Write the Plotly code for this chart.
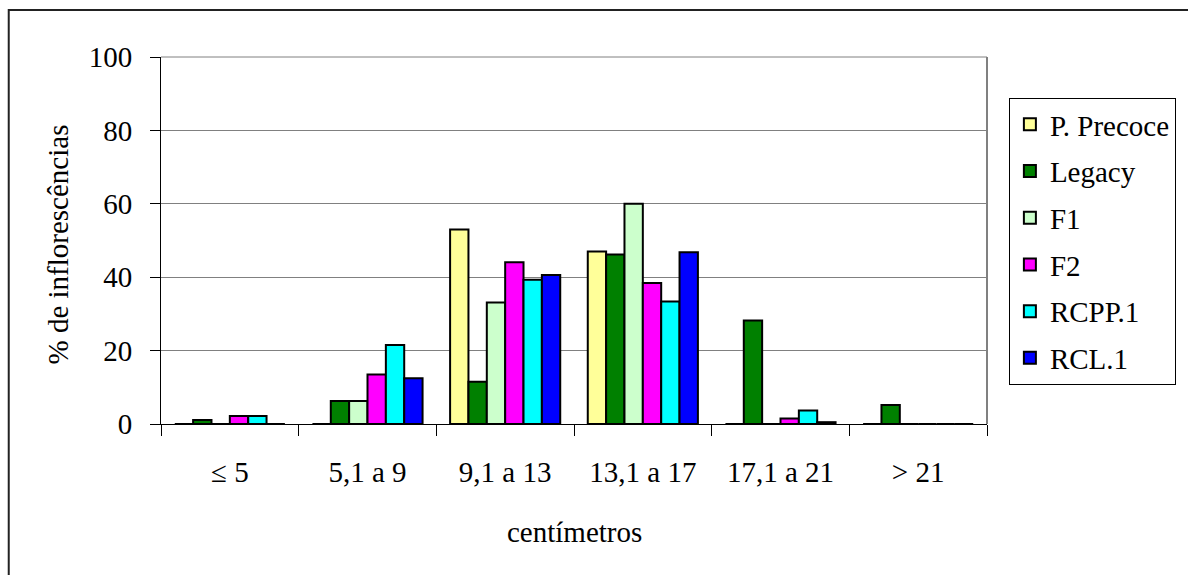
import plotly.graph_objects as go

# Length classes (cm) and share of inflorescences per genotype (%)
categories = ["\u2264 5", "5,1 a 9", "9,1 a 13", "13,1 a 17", "17,1 a 21", "> 21"]
series_names = ["P. Precoce", "Legacy", "F1", "F2", "RCPP.1", "RCL.1"]
p_precoce = [0, 0, 53.0, 47.0, 0, 0]
legacy = [1.1, 6.3, 11.5, 46.2, 28.2, 5.2]
f1 = [0, 6.3, 33.1, 60.0, 0, 0]
f2 = [2.2, 13.5, 44.1, 38.4, 1.5, 0]
rcpp1 = [2.2, 21.5, 39.3, 33.4, 3.7, 0]
rcl1 = [0, 12.5, 40.6, 46.8, 0.5, 0]
series_values = [p_precoce, legacy, f1, f2, rcpp1, rcl1]
y_ticks = [0, 20, 40, 60, 80, 100]

colors = ["#FFFF99", "#008000", "#CCFFCC", "#FF00FF", "#00FFFF", "#0000FF"]

W, H = 1188, 575
L, R, T, B = 161, 991, 57, 424  # plot area in pixels
FONT = "'Liberation Serif', 'Times New Roman', Times, serif"
FS = 29


def px(x):
    return (x - L) / (R - L)


def py(y):
    return (B - y) / (B - T)


fig = go.Figure()
for i, (name, vals) in enumerate(zip(series_names, series_values)):
    fig.add_trace(go.Bar(
        name=name, x=categories, y=vals,
        marker=dict(color=colors[i], line=dict(color="black", width=2)),
        legendgroup=name,
    ))

fig.update_layout(
    width=W, height=H,
    margin=dict(l=L, r=W - R, t=T, b=H - B, pad=0),
    paper_bgcolor="white", plot_bgcolor="white",
    barmode="group", bargap=0.2, bargroupgap=0,
    font=dict(family=FONT, size=FS, color="black"),
    showlegend=True,
    legend=dict(
        x=px(1013), y=py(98), xanchor="left", yanchor="top",
        bgcolor="white", bordercolor="black", borderwidth=1,
        font=dict(family=FONT, size=FS, color="black"),
        tracegroupgap=6, traceorder="grouped",
        itemsizing="constant",
    ),
    xaxis=dict(
        type="category", showline=True, linecolor="black", linewidth=1,
        ticks="outside", ticklen=11, tickcolor="black", tickson="boundaries",
        showgrid=False, tickfont=dict(family=FONT, size=FS),
        ticklabelstandoff=22, tickangle=0,
    ),
    yaxis=dict(
        range=[0, 100], tickvals=y_ticks, showline=True, linecolor="black",
        linewidth=1, ticks="outside", ticklen=10, tickcolor="black",
        showgrid=True, gridcolor="#808080", gridwidth=1, zeroline=False,
        tickfont=dict(family=FONT, size=FS), ticklabelstandoff=12,
    ),
    shapes=[
        # outer chart frame
        dict(type="rect", xref="paper", yref="paper",
             x0=px(8), x1=px(1210), y0=py(600), y1=py(10),
             line=dict(color="#222222", width=2), layer="below"),
        # plot area right and top edges
        dict(type="line", xref="paper", yref="paper", x0=1, x1=1, y0=0, y1=1,
             line=dict(color="#808080", width=2)),
        dict(type="line", xref="paper", yref="paper", x0=0, x1=1, y0=1, y1=1,
             line=dict(color="#808080", width=1)),
    ],
    annotations=[
        dict(text="% de inflorescências", xref="paper", yref="paper",
             x=px(57), y=py(245), xanchor="center", yanchor="middle",
             textangle=-90, showarrow=False,
             font=dict(family=FONT, size=FS)),
        dict(text="centímetros", xref="paper", yref="paper",
             x=0.5, y=py(532), xanchor="center", yanchor="middle",
             showarrow=False, font=dict(family=FONT, size=FS)),
    ],
)

fig.write_html("out.html")
